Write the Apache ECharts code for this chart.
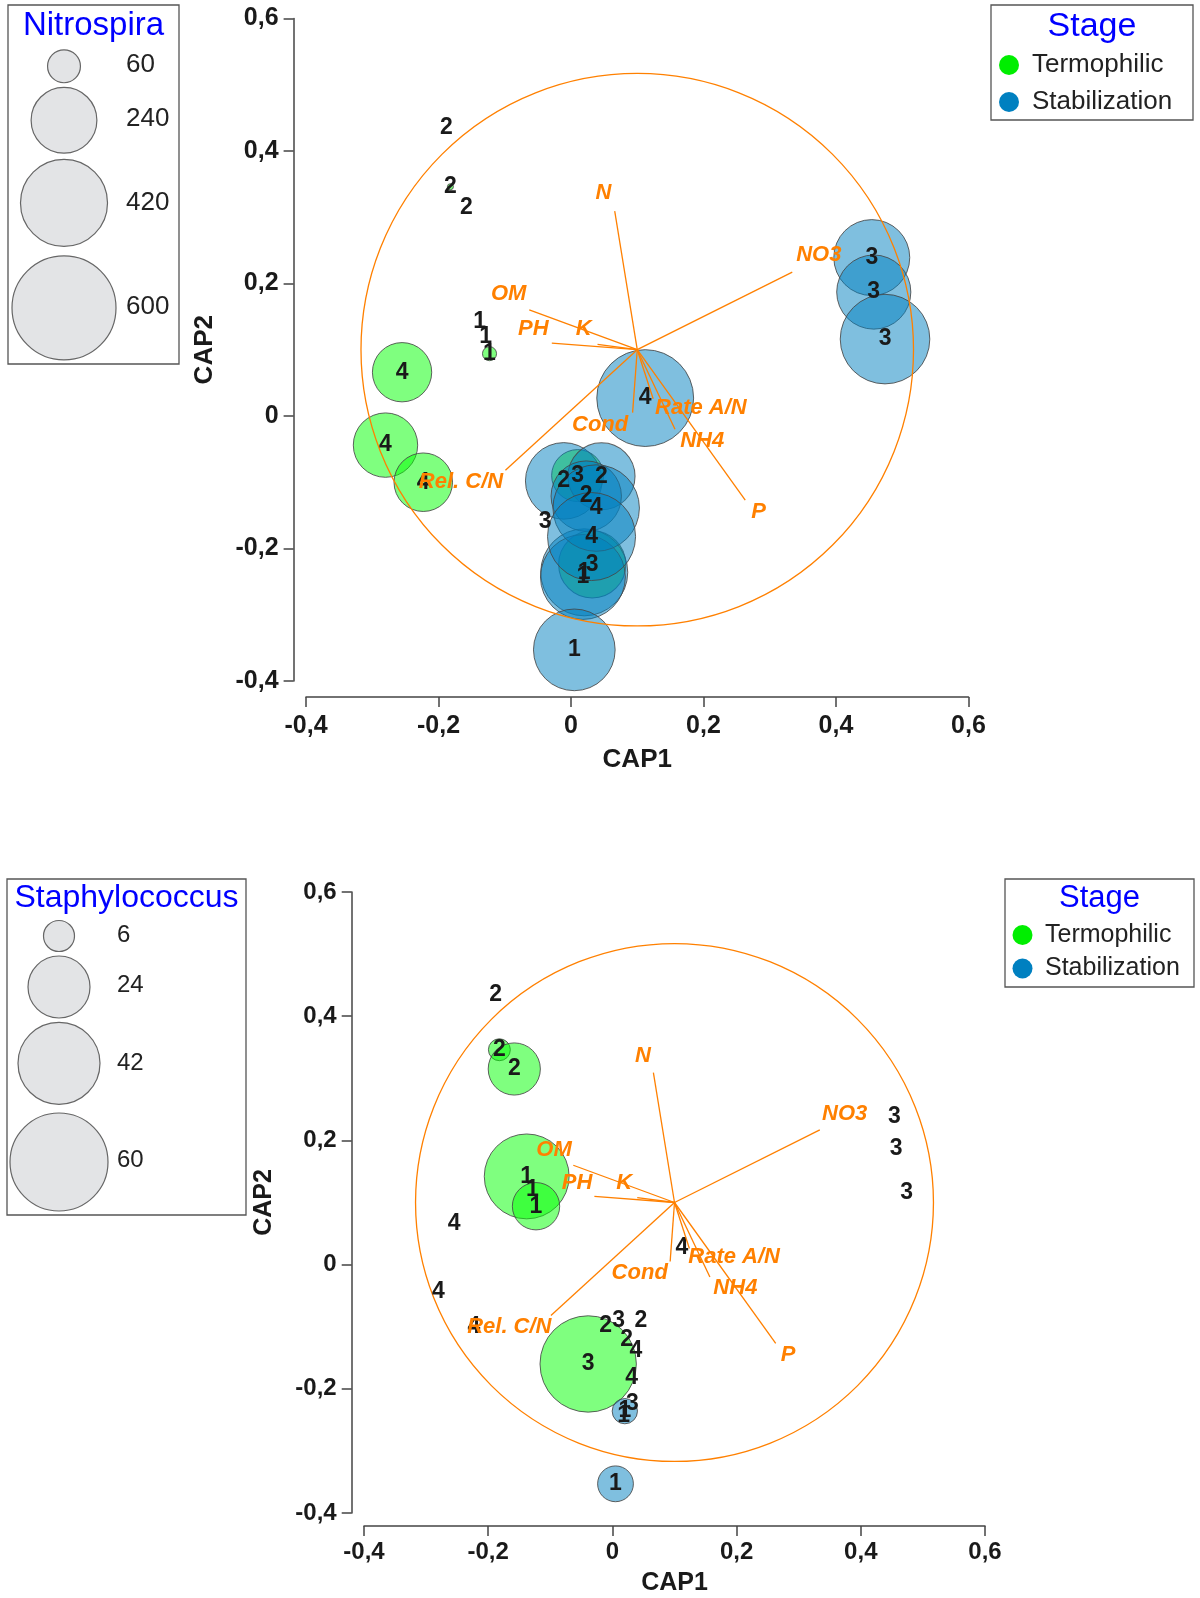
<!DOCTYPE html>
<html><head><meta charset="utf-8">
<script src="https://cdn.jsdelivr.net/npm/echarts@6/dist/echarts.min.js"></script>
<style>html,body{margin:0;padding:0;background:#fff}#chart{width:1200px;height:1598px}</style>
</head><body><div id="chart"></div>
<script>
// ---------------- DATA ----------------
const sampleLabels = ['1','1','1','1','1','1','2','2','2','2','2','2','3','3','3','3','3','3','4','4','4','4','4','4'];
const sampleStage = ['Termophilic','Termophilic','Termophilic','Stabilization','Stabilization','Stabilization',
  'Termophilic','Termophilic','Termophilic','Stabilization','Stabilization','Stabilization',
  'Termophilic','Termophilic','Termophilic','Stabilization','Stabilization','Stabilization',
  'Termophilic','Termophilic','Termophilic','Stabilization','Stabilization','Stabilization'];
const cap1 = [-0.138,-0.129,-0.123, 0.020, 0.018, 0.005,
  -0.188,-0.182,-0.158,-0.011, 0.046, 0.023,
   0.010,-0.039, 0.032, 0.454, 0.457, 0.474,
  -0.255,-0.280,-0.223, 0.112, 0.038, 0.031];
const cap2 = [ 0.142, 0.120, 0.094,-0.236,-0.243,-0.353,
   0.435, 0.346, 0.315,-0.098,-0.091,-0.121,
  -0.090,-0.160,-0.224, 0.239, 0.187, 0.116,
   0.066,-0.044,-0.100, 0.027,-0.139,-0.182];
const nitrospira = [0, 0, 11, 420, 400, 370,
  0, 2, 0, 325, 250, 275,
  150, 0, 250, 320, 305, 445,
  195, 230, 190, 520, 415, 430];
const staphylococcus = [45, 0, 14, 4, 0, 8,
  0, 3, 17, 0, 0, 0,
  0, 58, 0, 0, 0, 0,
  0, 0, 0, 0, 0, 0];
const stages = ['Termophilic','Stabilization'];

const vectorNames = ['N','NO3','OM','PH','K','Cond','Rate A/N','NH4','P','Rel. C/N'];
const vectorCap1 = [0.066, 0.334,-0.063,-0.029, 0.040, 0.093, 0.124, 0.157, 0.263,-0.099];
const vectorCap2 = [0.309, 0.217, 0.160, 0.110, 0.108, 0.005, 0.026,-0.020,-0.127,-0.082];
const vectorLabelCap1 = [0.049, 0.374,-0.094,-0.057, 0.019, 0.044, 0.196, 0.198, 0.283,-0.166];
const vectorLabelCap2 = [0.336, 0.243, 0.184, 0.132, 0.131,-0.014, 0.012,-0.038,-0.145,-0.100];
const vectorOrigin = [0.1, 0.1];
const circleCenter = [0.1, 0.1];
const circleRadius = 0.417;

const axisTicks = [-0.4,-0.2,0,0.2,0.4,0.6];
const nitroLegend = [60, 240, 420, 600];
const staphLegend = [6, 24, 42, 60];

// ---------------- STYLE ----------------
const ORANGE = '#FF8000';
const FILL = {Termophilic:'rgba(0,255,0,0.5)', Stabilization:'rgba(0,127,191,0.5)'};
const DOT = {Termophilic:'#00EE00', Stabilization:'#0080C0'};
const FONT = '"Liberation Sans", Arial, sans-serif';

const panels = [
  {grid:{left:306, top:18.4, width:662.5, height:662.6}, xOff:16, yOff:12.4, xGap:50, yGap:76, xMargin:17,
   values:nitrospira, vmax:600, R:52, legendVals:nitroLegend, taxon:'Nitrospira',
   tickFont:25, nameFont:26},
  {grid:{left:364, top:892, width:621, height:621}, xOff:13, yOff:12.3, xGap:45, yGap:75, xMargin:14,
   values:staphylococcus, vmax:60, R:49, legendVals:staphLegend, taxon:'Staphylococcus',
   tickFont:24, nameFont:25}
];

function fmt(v){ if (Math.abs(v) < 1e-9) return '0'; return v.toFixed(1).replace('.', ','); }

const option = {animation:false, backgroundColor:'#fff', grid:[], xAxis:[], yAxis:[], series:[], graphic:[]};

panels.forEach((p, k) => {
  option.grid.push(p.grid);
  const axCommon = {
    type:'value', min:axisTicks[0], max:axisTicks[axisTicks.length-1], interval:0.2, gridIndex:k,
    axisLine:{show:true, onZero:false, lineStyle:{color:'#444', width:1.5}},
    axisTick:{show:true, inside:false, length:10, lineStyle:{color:'#444', width:1.5}},
    splitLine:{show:false},
    nameLocation:'middle',
    nameTextStyle:{fontFamily:FONT, fontWeight:'bold', fontSize:p.nameFont, color:'#1a1a1a'}
  };
  option.xAxis.push(Object.assign({}, axCommon, {
    name:'CAP1', position:'bottom', offset:p.xOff, nameGap:p.xGap,
    axisLabel:{formatter:fmt, margin:p.xMargin, fontFamily:FONT, fontWeight:'bold', fontSize:p.tickFont, color:'#1a1a1a'}
  }));
  option.yAxis.push(Object.assign({}, axCommon, {
    name:'CAP2', position:'left', offset:p.yOff, nameGap:p.yGap, nameRotate:90,
    axisLabel:{formatter:fmt, margin:15, fontFamily:FONT, fontWeight:'bold', fontSize:p.tickFont, color:'#1a1a1a'}
  }));

  // bubbles by stage
  stages.forEach(st => {
    const data = [];
    cap1.forEach((x, i) => {
      if (sampleStage[i] === st && p.values[i] > 0) data.push([x, cap2[i], p.values[i]]);
    });
    option.series.push({
      type:'scatter', name:st, xAxisIndex:k, yAxisIndex:k, data,
      symbol:'circle',
      symbolSize: d => 2 * p.R * Math.sqrt(d[2] / p.vmax),
      itemStyle:{color:FILL[st], borderColor:'rgba(70,70,70,0.85)', borderWidth:1, opacity:1},
      emphasis:{disabled:true}, z:2
    });
  });

  // correlation circle
  option.series.push({
    type:'custom', xAxisIndex:k, yAxisIndex:k, z:3, silent:true,
    data:[[circleCenter[0], circleCenter[1], circleRadius]],
    renderItem:(params, api) => {
      const c = api.coord([api.value(0), api.value(1)]);
      const r = api.size([api.value(2), 0])[0];
      return {type:'circle', shape:{cx:c[0], cy:c[1], r}, style:{fill:'rgba(0,0,0,0)', stroke:ORANGE, lineWidth:1.3}};
    }
  });

  // sample number labels
  option.series.push({
    type:'custom', xAxisIndex:k, yAxisIndex:k, z:4, silent:true,
    data: cap1.map((x, i) => [x, cap2[i]]),
    renderItem:(params, api) => {
      const c = api.coord([api.value(0), api.value(1)]);
      return {type:'text', x:c[0], y:c[1], style:{text:sampleLabels[params.dataIndex], fill:'#1a1a1a',
        font:'bold 23px ' + FONT, align:'center', verticalAlign:'middle'}};
    }
  });

  // environmental vectors
  option.series.push({
    type:'custom', xAxisIndex:k, yAxisIndex:k, z:5, silent:true,
    data: vectorCap1.map((x, i) => [x, vectorCap2[i], vectorLabelCap1[i], vectorLabelCap2[i]]),
    renderItem:(params, api) => {
      const o = api.coord(vectorOrigin);
      const e = api.coord([api.value(0), api.value(1)]);
      const l = api.coord([api.value(2), api.value(3)]);
      return {type:'group', children:[
        {type:'line', shape:{x1:o[0], y1:o[1], x2:e[0], y2:e[1]}, style:{stroke:ORANGE, lineWidth:1.3}},
        {type:'text', x:l[0], y:l[1], style:{text:vectorNames[params.dataIndex], fill:ORANGE,
          font:'italic bold 22px ' + FONT, align:'center', verticalAlign:'middle'}}
      ]};
    }
  });
});

// ---------------- LEGENDS (graphic) ----------------
function sizeLegend(box, title, titleFont, titleY, vals, vmax, R, cx, cys, labelX, labelYs, labelFont){
  const g = [];
  g.push({type:'rect', shape:{x:box[0], y:box[1], width:box[2], height:box[3]}, style:{fill:'#fff', stroke:'#555', lineWidth:1.3}});
  g.push({type:'text', x:box[0] + box[2]/2, y:titleY, style:{text:title, fill:'#0000FF', font:titleFont + 'px ' + FONT, align:'center', verticalAlign:'middle'}});
  vals.forEach((v, i) => {
    g.push({type:'circle', shape:{cx, cy:cys[i], r:R*Math.sqrt(v/vmax)}, style:{fill:'#E3E4E6', stroke:'#666', lineWidth:1.2}});
    g.push({type:'text', x:labelX, y:labelYs[i], style:{text:String(v), fill:'#222', font:labelFont + 'px ' + FONT, align:'left', verticalAlign:'middle'}});
  });
  return g;
}
function stageLegend(box, titleFont, titleY, dotX, dotYs, textX, itemFont){
  const g = [];
  g.push({type:'rect', shape:{x:box[0], y:box[1], width:box[2], height:box[3]}, style:{fill:'#fff', stroke:'#555', lineWidth:1.3}});
  g.push({type:'text', x:box[0] + box[2]/2, y:titleY, style:{text:'Stage', fill:'#0000FF', font:titleFont + 'px ' + FONT, align:'center', verticalAlign:'middle'}});
  stages.forEach((st, i) => {
    g.push({type:'circle', shape:{cx:dotX, cy:dotYs[i], r:10}, style:{fill:DOT[st]}});
    g.push({type:'text', x:textX, y:dotYs[i], style:{text:st, fill:'#222', font:itemFont + 'px ' + FONT, align:'left', verticalAlign:'middle'}});
  });
  return g;
}

option.graphic = [].concat(
  sizeLegend([8, 5, 171, 359], 'Nitrospira', 33, 26, nitroLegend, 600, 52, 64, [66.3, 120.3, 202.9, 307.9], 126, [65, 119, 203, 307], 26),
  sizeLegend([7, 879, 239, 336], 'Staphylococcus', 32, 898, staphLegend, 60, 49, 59, [936, 987, 1063.3, 1162], 117, [935, 985, 1063, 1160], 24),
  stageLegend([991, 5, 202, 115], 34, 27, 1009, [65, 102], 1032, 26),
  stageLegend([1005, 879, 189, 108], 31, 898, 1022.5, [935, 968.5], 1045, 25)
);

const chart = echarts.init(document.getElementById('chart'), null, {renderer:'canvas', width:1200, height:1598});
chart.setOption(option);
</script></body></html>
